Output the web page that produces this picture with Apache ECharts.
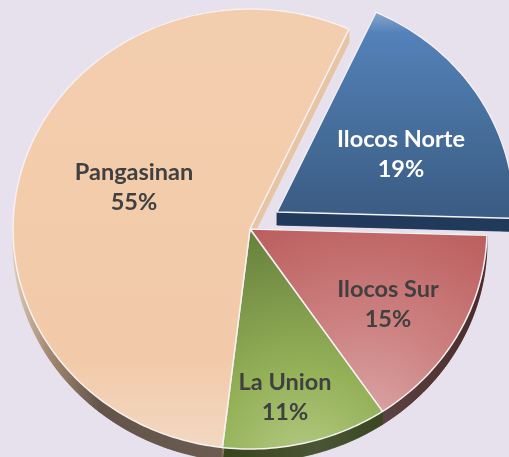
<!DOCTYPE html>
<html>
<head>
<meta charset="utf-8">
<title>Pie</title>
<script src="https://cdn.jsdelivr.net/npm/echarts@6/dist/echarts.min.js"></script>
<style>
  html, body { margin: 0; padding: 0; background: #E6E1ED; }
  #chart { width: 509px; height: 457px; }
</style>
</head>
<body>
<div id="chart"></div>
<script>
// clockwise from the cut at the upper right
const provinces = ['Ilocos Norte', 'Ilocos Sur', 'La Union', 'Pangasinan'];
const shares = [18.6, 15.1, 11.3, 55];

const G = echarts.graphic;
const cx = 250, cy = 229, rx = 237, ry = 220, depth = 13;
const startDeg = 24.7;
// exploded slice offset
const explode = [[27, -17], [0, 0], [0, 0], [0, 0]];
const labelPos = [[401, 154], [388, 304], [285, 397], [134, 187]];
const labelColor = ['#FFFFFF', '#404040', '#404040', '#404040'];

const topFill = [
  new G.LinearGradient(0, 13, 0, 213, [
    { offset: 0, color: '#86A6CB' }, { offset: 0.1, color: '#5381B9' },
    { offset: 0.5, color: '#48719F' }, { offset: 1, color: '#3B5C85' }
  ], true),
  new G.RadialGradient(365, 425, 220, [
    { offset: 0, color: '#DCA6A6' }, { offset: 0.5, color: '#CC7F7F' }, { offset: 1, color: '#BC5F5F' }
  ], true),
  new G.RadialGradient(305, 465, 240, [
    { offset: 0, color: '#B4CA84' }, { offset: 0.4, color: '#94B158' }, { offset: 1, color: '#67803D' }
  ], true),
  new G.LinearGradient(0, 10, 0, 447, [
    { offset: 0, color: '#F3CEAE' }, { offset: 0.8, color: '#F2CAA9' }, { offset: 1, color: '#F3D8C1' }
  ], true)
];
const wallFill = [
  '#213A5C',
  new G.LinearGradient(487, 0, 383, 0, [
    { offset: 0, color: '#4A2A2A' }, { offset: 1, color: '#5C4242' }
  ], true),
  new G.LinearGradient(222, 0, 383, 0, [
    { offset: 0, color: '#36451C' }, { offset: 0.6, color: '#4A5535' }, { offset: 1, color: '#3A4620' }
  ], true),
  new G.LinearGradient(13, 0, 360, 0, [
    { offset: 0, color: '#E0CAB4' }, { offset: 0.1, color: '#A58A72' }, { offset: 0.25, color: '#63544A' },
    { offset: 0.6, color: '#6B5B50' }, { offset: 0.62, color: '#E6C4A4' }, { offset: 1, color: '#E6C4A4' }
  ], true)
];

function arcPoints(a0, a1, ox, oy) {
  const pts = [];
  const n = Math.max(2, Math.ceil(Math.abs(a1 - a0)));
  for (let i = 0; i <= n; i++) {
    const a = (a0 + (a1 - a0) * i / n) * Math.PI / 180;
    pts.push([cx + ox + rx * Math.sin(a), cy + oy - ry * Math.cos(a)]);
  }
  return pts;
}

const total = shares.reduce((a, b) => a + b, 0);

function renderSlice(params, api) {
  const i = params.dataIndex;
  let before = 0;
  for (let k = 0; k < i; k++) before += shares[k];
  const a0 = startDeg + before / total * 360;
  const a1 = a0 + api.value(0) / total * 360;
  const ox = explode[i][0], oy = explode[i][1];
  const arc = arcPoints(a0, a1, ox, oy);
  const apex = [cx + ox, cy + oy];
  const down = p => [p[0], p[1] + depth];
  const first = arc[0], last = arc[arc.length - 1];
  const wallStyle = { fill: wallFill[i], stroke: wallFill[i], lineWidth: 0.5 };
  const walls = [
    arc.concat(arc.slice().reverse().map(down)),
    [apex, first, down(first), down(apex)],
    [apex, last, down(last), down(apex)],
    arc.map(down).concat([down(apex)])
  ].map(pts => ({ type: 'polygon', z2: 1, shape: { points: pts }, style: wallStyle }));
  return {
    type: 'group',
    children: walls.concat([
      {
        type: 'polygon',
        z2: 2,
        shape: { points: [apex].concat(arc) },
        style: { fill: topFill[i], stroke: '#F6F2F4', lineWidth: 1.5, lineJoin: 'round' }
      },
      {
        type: 'text',
        z2: 3,
        x: labelPos[i][0],
        y: labelPos[i][1],
        style: {
          text: provinces[i] + '\n' + Math.round(api.value(0) / total * 100) + '%',
          fill: labelColor[i],
          font: 'bold 23.5px Lato, "Open Sans", sans-serif',
          lineHeight: 30,
          align: 'center',
          verticalAlign: 'middle'
        }
      }
    ])
  };
}

const chart = echarts.init(document.getElementById('chart'));
chart.setOption({
  animation: false,
  backgroundColor: '#E6E1ED',
  series: [{
    type: 'custom',
    coordinateSystem: 'none',
    renderItem: renderSlice,
    data: shares.map((v, i) => ({ name: provinces[i], value: [v] })),
    clip: false
  }]
});
</script>
</body>
</html>
